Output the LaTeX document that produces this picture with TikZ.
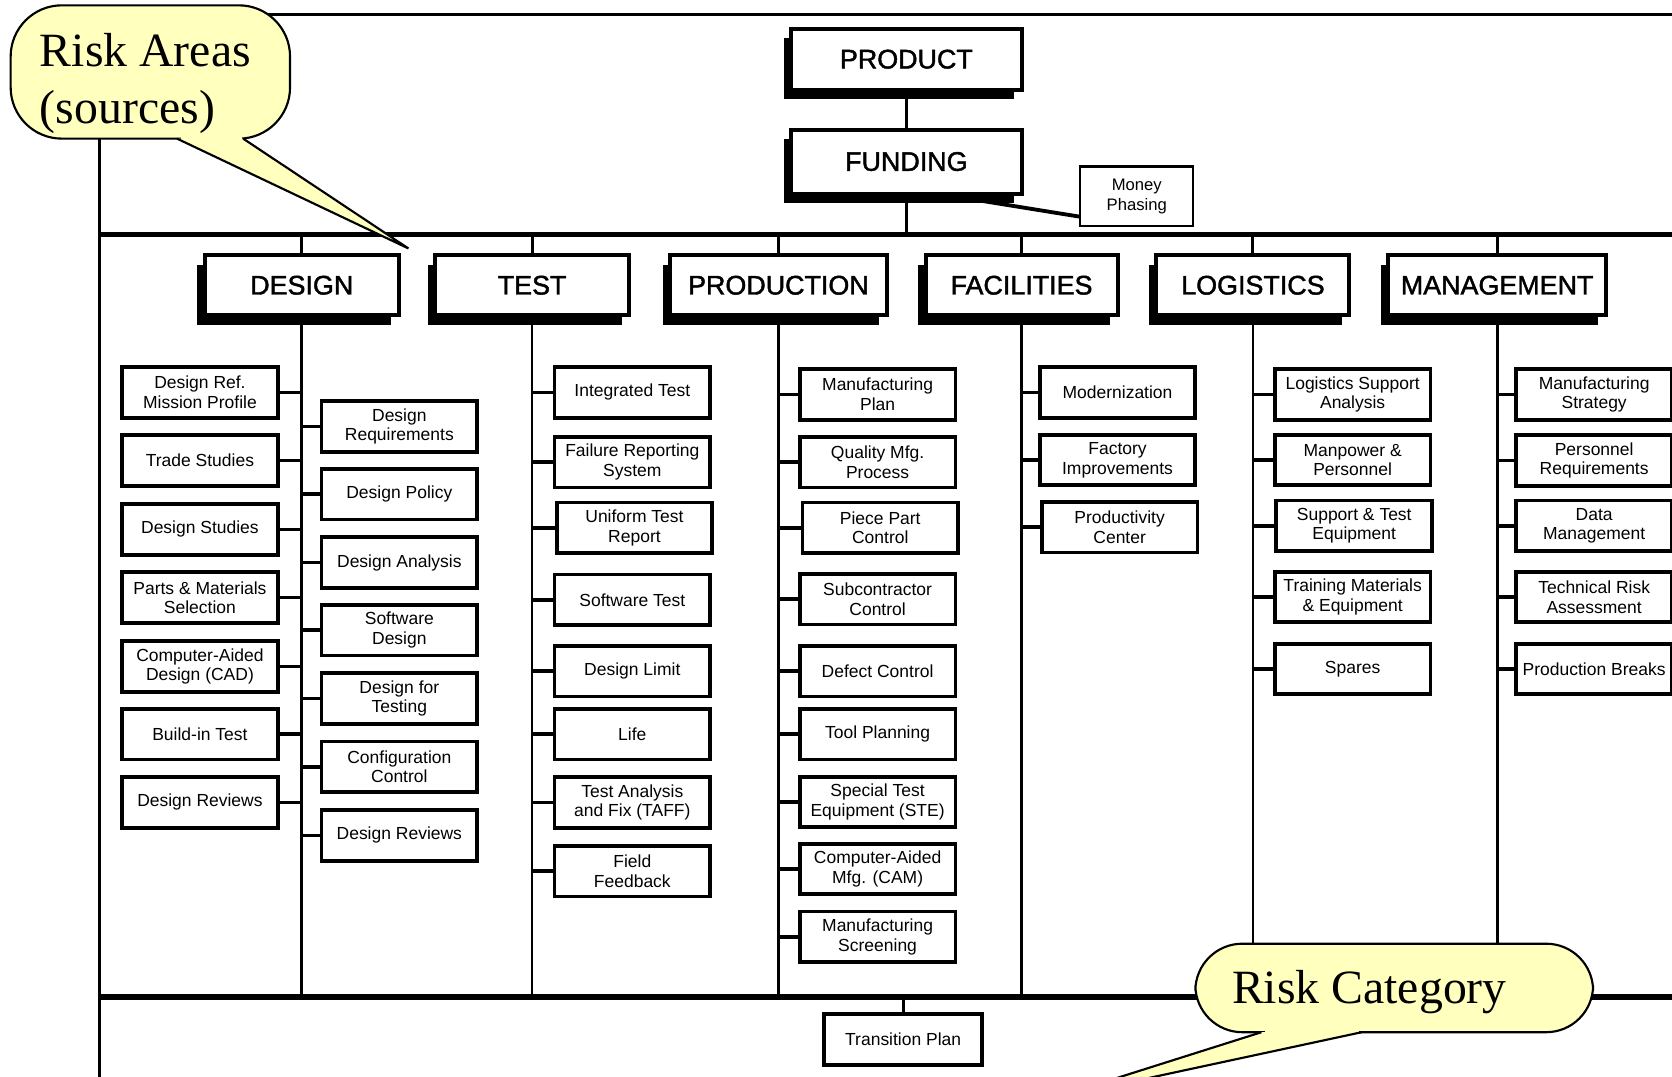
\documentclass[tikz,border=0pt]{standalone}
\usepackage{fontspec}
\newfontfamily\boxfont{Liberation Sans}
\newfontfamily\headfont{Liberation Sans}[FakeBold=1.6]
\newfontfamily\notefont{Liberation Serif}
\usepackage{tikz}
\usetikzlibrary{calc}
\usetikzlibrary{shadows}
\definecolor{notefill}{RGB}{255,255,190}
\tikzset{headbox/.style={draw, line width=1.9pt, fill=white, inner sep=0pt,
    minimum width=91pt, minimum height=28pt, font=\headfont\fontsize{12.6}{14}\selectfont,
    drop shadow={shadow xshift=-3.5pt, shadow yshift=-4.5pt, opacity=1, fill=black}},
  itembox/.style={draw, line width=1.8pt, fill=white, inner sep=0pt, align=center,
    minimum width=73pt, minimum height=23.7pt, font=\boxfont\fontsize{8.2}{9.2}\selectfont,
    drop shadow={shadow xshift=-0.5pt, shadow yshift=-0.8pt, opacity=1, fill=black}},
  bus/.style={line width=2.6pt},
  spine/.style={line width=1.3pt},
  stub/.style={line width=1.7pt},
  riser/.style={line width=1.4pt},
  frameline/.style={line width=1.4pt},
  notebox/.style={draw=black, line width=1pt, fill=notefill},
  notetext/.style={anchor=base west, inner sep=0pt, font=\notefont\fontsize{22.4}{27}\selectfont}}

\begin{document}
\begin{tikzpicture}[x=0.5pt,y=-0.5pt]
\useasboundingbox (0,0) rectangle (1568,1010);
\clip (0,0) rectangle (1568,1010);
\fill[white] (0,0) rectangle (1568,1010);

%Straight Lines: frame and the two buses
\coordinate (frametop) at (93,14);
\coordinate (busone) at (93,220);
\coordinate (bustwo) at (93,935);
\draw[frameline] (93,1020) -- (frametop) -- (1580,14);
\draw[bus] (busone) -- (1580,220);
\draw[bus] (bustwo) -- (1580,935);

% Text Node
\node[headbox, minimum width=108pt, minimum height=28.5pt] (product) at (850,55.5) {PRODUCT};
% Text Node
\node[headbox, minimum width=108pt, minimum height=30pt] (funding) at (850,151.5) {FUNDING};
% Text Node
\node[draw, line width=1.1pt, fill=white, inner sep=0pt, minimum width=53pt, minimum height=28pt, align=center, font=\boxfont\fontsize{7.8}{9.4}\selectfont] (money) at (1066,184) {Money\\Phasing};

% Text Node
\node[headbox] (design) at (283,267.5) {DESIGN};
% Text Node
\node[headbox] (test) at (499,267.5) {TEST};
% Text Node
\node[headbox, minimum width=101.5pt] (production) at (730,267.5) {PRODUCTION};
% Text Node
\node[headbox, minimum width=90pt] (facilities) at (958,267.5) {FACILITIES};
% Text Node
\node[headbox, minimum width=90.5pt] (logistics) at (1175,267.5) {LOGISTICS};
% Text Node
\node[headbox, minimum width=102pt] (management) at (1404,267.5) {MANAGEMENT};

%Straight Lines
\draw[riser] (product) -- (funding);
\draw[riser] (funding.south) -- (funding.south |- busone);
\draw[line width=1.8pt] ($(funding.south east)+(-39,5)$) -- ($(money.south west)+(0,-10)$);
\draw[riser] (design.north |- busone) -- (design.north);
\draw[riser] (test.north |- busone) -- (test.north);
\draw[riser] (production.north |- busone) -- (production.north);
\draw[riser] (facilities.north |- busone) -- (facilities.north);
\draw[riser] (logistics.north |- busone) -- (logistics.north);
\draw[riser] (management.north |- busone) -- (management.north);
\draw[spine] (design.south) -- (design.south |- bustwo);
\draw[spine] (test.south) -- (test.south |- bustwo);
\draw[spine] (production.south) -- (production.south |- bustwo);
\draw[spine] (facilities.south) -- (facilities.south |- bustwo);
\draw[spine] (logistics.south) -- (logistics.south |- bustwo);
\draw[spine] (management.south) -- (management.south |- bustwo);

% Text Node
\node[itembox] (dl1) at (187.5,368) {Design Ref.\\Mission Profile};
\node[itembox] (dl2) at (187.5,432) {Trade Studies};
\node[itembox] (dl3) at (187.5,496.5) {Design Studies};
\node[itembox] (dl4) at (187.5,560.5) {Parts \& Materials\\Selection};
\node[itembox] (dl5) at (187.5,625) {Computer-Aided\\Design (CAD)};
\node[itembox] (dl6) at (187.5,688.5) {Build-in Test};
\node[itembox] (dl7) at (187.5,752.5) {Design Reviews};
% Text Node
\node[itembox] (dr1) at (374.5,400) {Design\\Requirements};
\node[itembox] (dr2) at (374.5,463.5) {Design Policy};
\node[itembox] (dr3) at (374.5,527.5) {Design Analysis};
\node[itembox] (dr4) at (374.5,591) {Software\\Design};
\node[itembox] (dr5) at (374.5,655) {Design for\\Testing};
\node[itembox] (dr6) at (374.5,719) {Configuration\\Control};
\node[itembox] (dr7) at (374.5,783.5) {Design Reviews};
% Text Node
\node[itembox] (t1) at (593,368) {Integrated Test};
\node[itembox] (t2) at (593,433.5) {Failure Reporting\\System};
\node[itembox] (t3) at (595,495) {Uniform Test\\Report};
\node[itembox] (t4) at (593,562.5) {Software Test};
\node[itembox] (t5) at (593,629.5) {Design Limit};
\node[itembox] (t6) at (593,688.5) {Life};
\node[itembox] (t7) at (593,752.5) {Test Analysis\\and Fix (TAFF)};
\node[itembox] (t8) at (593,817) {Field\\Feedback};
% Text Node
\node[itembox] (p1) at (823,370) {Manufacturing\\Plan};
\node[itembox] (p2) at (823,433.5) {Quality Mfg.\\Process};
\node[itembox] (p3) at (825.5,495) {Piece Part\\Control};
\node[itembox] (p4) at (823,562) {Subcontractor\\Control};
\node[itembox] (p5) at (823,629.5) {Defect Control};
\node[itembox] (p6) at (823,688.5) {Tool Planning};
\node[itembox] (p7) at (823,752) {Special Test\\Equipment (STE)};
\node[itembox] (p8) at (823,815) {Computer-Aided\\Mfg. (CAM)};
\node[itembox] (p9) at (823,878.5) {Manufacturing\\Screening};
% Text Node
\node[itembox] (f1) at (1048,368) {Modernization};
\node[itembox] (f2) at (1048,431.5) {Factory\\Improvements};
\node[itembox] (f3) at (1050,494.5) {Productivity\\Center};
% Text Node
\node[itembox] (l1) at (1268.5,370) {Logistics Support\\Analysis};
\node[itembox] (l2) at (1268.5,431.5) {Manpower \&\\Personnel};
\node[itembox] (l3) at (1270,493) {Support \& Test\\Equipment};
\node[itembox] (l4) at (1268.5,560) {Training Materials\\\& Equipment};
\node[itembox] (l5) at (1268.5,627.5) {Spares};
% Text Node
\node[itembox] (m1) at (1495,370) {Manufacturing\\Strategy};
\node[itembox] (m2) at (1495,432) {Personnel\\Requirements};
\node[itembox] (m3) at (1495,493) {Data\\Management};
\node[itembox] (m4) at (1495,560) {Technical Risk\\Assessment};
\node[itembox] (m5) at (1495,627.5) {Production Breaks};
% Text Node
\node[itembox, minimum width=74pt] (transition) at (847,975) {Transition Plan};

%Straight Lines: stubs
\draw[stub] (dl1.east) -- (dl1.east -| design.south);
\draw[stub] (dl2.east) -- (dl2.east -| design.south);
\draw[stub] (dl3.east) -- (dl3.east -| design.south);
\draw[stub] (dl4.east) -- (dl4.east -| design.south);
\draw[stub] (dl5.east) -- (dl5.east -| design.south);
\draw[stub] (dl6.east) -- (dl6.east -| design.south);
\draw[stub] (dl7.east) -- (dl7.east -| design.south);
\draw[stub] (dr1.west -| design.south) -- (dr1.west);
\draw[stub] (dr2.west -| design.south) -- (dr2.west);
\draw[stub] (dr3.west -| design.south) -- (dr3.west);
\draw[stub] (dr4.west -| design.south) -- (dr4.west);
\draw[stub] (dr5.west -| design.south) -- (dr5.west);
\draw[stub] (dr6.west -| design.south) -- (dr6.west);
\draw[stub] (dr7.west -| design.south) -- (dr7.west);
\draw[stub] (t1.west -| test.south) -- (t1.west);
\draw[stub] (t2.west -| test.south) -- (t2.west);
\draw[stub] (t3.west -| test.south) -- (t3.west);
\draw[stub] (t4.west -| test.south) -- (t4.west);
\draw[stub] (t5.west -| test.south) -- (t5.west);
\draw[stub] (t6.west -| test.south) -- (t6.west);
\draw[stub] (t7.west -| test.south) -- (t7.west);
\draw[stub] (t8.west -| test.south) -- (t8.west);
\draw[stub] (p1.west -| production.south) -- (p1.west);
\draw[stub] (p2.west -| production.south) -- (p2.west);
\draw[stub] (p3.west -| production.south) -- (p3.west);
\draw[stub] (p4.west -| production.south) -- (p4.west);
\draw[stub] (p5.west -| production.south) -- (p5.west);
\draw[stub] (p6.west -| production.south) -- (p6.west);
\draw[stub] (p7.west -| production.south) -- (p7.west);
\draw[stub] (p8.west -| production.south) -- (p8.west);
\draw[stub] (p9.west -| production.south) -- (p9.west);
\draw[stub] (f1.west -| facilities.south) -- (f1.west);
\draw[stub] (f2.west -| facilities.south) -- (f2.west);
\draw[stub] (f3.west -| facilities.south) -- (f3.west);
\draw[stub] (l1.west -| logistics.south) -- (l1.west);
\draw[stub] (l2.west -| logistics.south) -- (l2.west);
\draw[stub] (l3.west -| logistics.south) -- (l3.west);
\draw[stub] (l4.west -| logistics.south) -- (l4.west);
\draw[stub] (l5.west -| logistics.south) -- (l5.west);
\draw[stub] (m1.west -| management.south) -- (m1.west);
\draw[stub] (m2.west -| management.south) -- (m2.west);
\draw[stub] (m3.west -| management.south) -- (m3.west);
\draw[stub] (m4.west -| management.south) -- (m4.west);
\draw[stub] (m5.west -| management.south) -- (m5.west);
\draw[riser] (transition.north |- bustwo) -- (transition.north);

%Shape: Callout (risk areas)
\draw[notebox, rounded corners=24] (10,5) rectangle (272,130);
\fill[notefill] (170,125) rectangle (227,132);
\fill[notefill] (166,130) -- (383,233) -- (228,130) -- cycle;
\draw[line width=1pt] (166,130) -- (383,233) -- (228,130);
% Text Node
\node[notetext] (areasA) at (37,62.5) {Risk Areas};
\node[notetext] (areasB) at (37,116) {(sources)};

%Shape: Callout (risk category)
\draw[notebox, rounded corners=22] (1121,885) rectangle (1494,968);
\fill[notefill] (1186,963) rectangle (1274,970);
\fill[notefill] (1183,968) -- (984,1031) -- (1277,968) -- cycle;
\draw[line width=1pt] (1183,968) -- (984,1031) -- (1277,968);
% Text Node
\node[notetext] (category) at (1155,941) {Risk Category};

\end{tikzpicture}
\end{document}
